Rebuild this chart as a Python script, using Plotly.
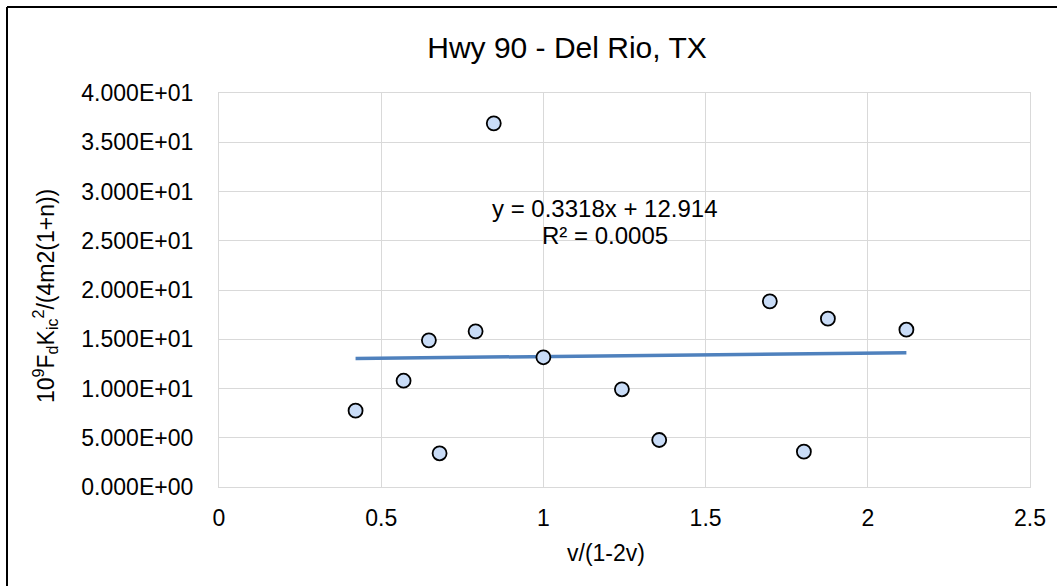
import plotly.graph_objects as go

# ---- data ----
x_vals = [0.421, 0.569, 0.647, 0.680, 0.791, 0.847, 1.000, 1.242, 1.357, 1.698, 1.803, 1.877, 2.119]
y_vals = [7.75, 10.79, 14.89, 3.42, 15.80, 36.92, 13.17, 9.92, 4.77, 18.85, 3.59, 17.09, 15.97]

trend_slope = 0.3318
trend_intercept = 12.914
trend_label = "y = 0.3318x + 12.914"
r2_label = "R² = 0.0005"

x_tickvals = [0, 0.5, 1, 1.5, 2, 2.5]
x_ticktext = ["0", "0.5", "1", "1.5", "2", "2.5"]
y_tickvals = [0, 5, 10, 15, 20, 25, 30, 35, 40]
y_ticktext = ["0.000E+00", "5.000E+00", "1.000E+01", "1.500E+01", "2.000E+01",
              "2.500E+01", "3.000E+01", "3.500E+01", "4.000E+01"]

title_text = "Hwy 90 - Del Rio, TX"
x_title = "v/(1-2v)"
y_title = "10<sup>9</sup>F<sub>d</sub>K<sub>ic</sub><sup>2</sup>/(4m2(1+n))"

# ---- layout geometry (pixels) ----
W, H = 1057, 586
L, R, T, B = 219, 27, 93, 99
PW = W - L - R
PH = H - T - B

def px_to_paper_x(px):
    return (px - L) / PW

def px_to_paper_y(py):
    return (H - B - py) / PH

FONT = "Liberation Sans, Arial, sans-serif"
FS = 23

tx = [min(x_vals), max(x_vals)]
ty = [trend_slope * v + trend_intercept for v in tx]

fig = go.Figure()
fig.add_trace(go.Scatter(
    x=tx, y=ty, mode="lines",
    line=dict(color="#4f81bd", width=3.5),
    hoverinfo="skip", showlegend=False,
))
fig.add_trace(go.Scatter(
    x=x_vals, y=y_vals, mode="markers",
    marker=dict(size=14, color="#c9dcf7", line=dict(color="black", width=1.8)),
    showlegend=False,
))

fig.update_layout(
    width=W, height=H,
    margin=dict(l=L, r=R, t=T, b=B, pad=0),
    paper_bgcolor="white", plot_bgcolor="white",
    font=dict(family=FONT, color="black", size=FS),
    title=dict(text=title_text, x=567 / W, xanchor="center",
               y=1 - 47 / H, yanchor="middle", yref="container",
               font=dict(size=30, family=FONT, color="black")),
    xaxis=dict(range=[0, 2.5], tickvals=x_tickvals, ticktext=x_ticktext,
               showgrid=True, gridcolor="#d9d9d9", gridwidth=1.3,
               showline=True, linecolor="#d9d9d9", linewidth=1.3, mirror=True,
               zeroline=False, ticks="", ticklabelstandoff=10,
               tickfont=dict(size=FS, family=FONT)),
    yaxis=dict(range=[0, 40], tickvals=y_tickvals, ticktext=y_ticktext,
               showgrid=True, gridcolor="#d9d9d9", gridwidth=1.3,
               showline=True, linecolor="#d9d9d9", linewidth=1.3, mirror=True,
               zeroline=False, ticks="", ticklabelstandoff=20,
               tickfont=dict(size=FS, family=FONT)),
    annotations=[
        dict(text=trend_label, xref="paper", yref="paper",
             x=px_to_paper_x(605), y=px_to_paper_y(208),
             xanchor="center", yanchor="middle", showarrow=False,
             font=dict(size=24, family=FONT)),
        dict(text=r2_label, xref="paper", yref="paper",
             x=px_to_paper_x(605), y=px_to_paper_y(235),
             xanchor="center", yanchor="middle", showarrow=False,
             font=dict(size=24, family=FONT)),
        dict(text=x_title, xref="paper", yref="paper",
             x=px_to_paper_x(606), y=px_to_paper_y(553),
             xanchor="center", yanchor="middle", showarrow=False,
             font=dict(size=FS, family=FONT)),
        dict(text=y_title, xref="paper", yref="paper",
             x=px_to_paper_x(45), y=px_to_paper_y(296),
             xanchor="center", yanchor="middle", showarrow=False, textangle=-90,
             font=dict(size=FS, family=FONT)),
    ],
    shapes=[
        dict(type="line", xref="paper", yref="paper",
             x0=px_to_paper_x(7), x1=px_to_paper_x(7),
             y0=px_to_paper_y(7), y1=px_to_paper_y(600),
             line=dict(color="black", width=2)),
        dict(type="line", xref="paper", yref="paper",
             x0=px_to_paper_x(7), x1=px_to_paper_x(1070),
             y0=px_to_paper_y(7), y1=px_to_paper_y(7),
             line=dict(color="black", width=2)),
    ],
)

fig.write_html("out.html", config={"displayModeBar": False},
               post_script="document.body.style.margin='0';")
